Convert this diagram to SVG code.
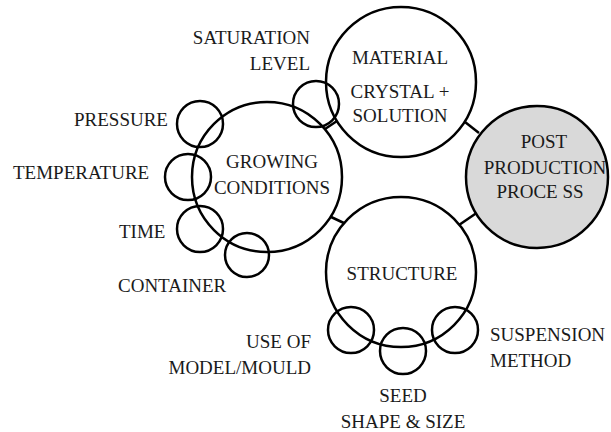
<svg xmlns="http://www.w3.org/2000/svg" width="611" height="432" viewBox="0 0 611 432">
<style>
.c{fill:none;stroke:#000;stroke-width:2.5}
.big{fill:#fff;stroke:#000;stroke-width:2.5}
.post{fill:#d9d9d9;stroke:#000;stroke-width:2.5}
.ln{stroke:#000;stroke-width:2.5}
.m{text-anchor:middle}
.e{text-anchor:end}
</style>
<rect width="611" height="432" fill="#fff"/>
<g id="connectors">
<line class="ln" x1="465" y1="122" x2="479" y2="133"/>
<line class="ln" x1="459" y1="225" x2="478" y2="212"/>
<line class="ln" x1="329" y1="216" x2="346" y2="224"/>
<line class="ln" x1="325" y1="129" x2="337" y2="121"/>
</g>
<g font-family="Liberation Serif, Times New Roman, serif" font-size="19" fill="#1a1a1a">
<g id="material">
<circle class="big" cx="401" cy="82" r="75"/>
<text class="m" x="400" y="64">MATERIAL</text>
<text class="m" x="400" y="98">CRYSTAL +</text>
<text class="m" x="400" y="122">SOLUTION</text>
</g>
<g id="growing">
<circle class="big" cx="267" cy="177" r="75"/>
<text class="m" x="272" y="168">GROWING</text>
<text class="m" x="272" y="194">CONDITIONS</text>
</g>
<g id="structure">
<circle class="big" cx="401" cy="272" r="75"/>
<text class="m" x="402" y="280">STRUCTURE</text>
</g>
<g id="post">
<circle class="post" cx="537" cy="177" r="71"/>
<text class="m" x="544" y="148">POST</text>
<text class="m" x="545" y="174">PRODUCTION</text>
<text class="m" x="540" y="198">PROCE SS</text>
</g>
<g id="saturation">
<circle class="c" cx="316" cy="104" r="23"/>
<text class="e" x="310" y="44">SATURATION</text>
<text class="e" x="310" y="70">LEVEL</text>
</g>
<g id="pressure">
<circle class="c" cx="200" cy="124" r="23"/>
<text x="74" y="126">PRESSURE</text>
</g>
<g id="temperature">
<circle class="c" cx="188" cy="177" r="23"/>
<text x="13" y="179">TEMPERATURE</text>
</g>
<g id="time">
<circle class="c" cx="200" cy="229" r="23"/>
<text x="119" y="238">TIME</text>
</g>
<g id="container">
<circle class="c" cx="247" cy="255" r="22"/>
<text x="118" y="292">CONTAINER</text>
</g>
<g id="mould">
<circle class="c" cx="351" cy="330" r="23"/>
<text class="e" x="311" y="348">USE OF</text>
<text class="e" x="311" y="374">MODEL/MOULD</text>
</g>
<g id="seed">
<circle class="c" cx="403" cy="351" r="23"/>
<text class="m" x="403" y="402">SEED</text>
<text class="m" x="403" y="428">SHAPE &amp; SIZE</text>
</g>
<g id="suspension">
<circle class="c" cx="455" cy="330" r="23"/>
<text x="490" y="341">SUSPENSION</text>
<text x="490" y="367">METHOD</text>
</g>
</g>
</svg>
